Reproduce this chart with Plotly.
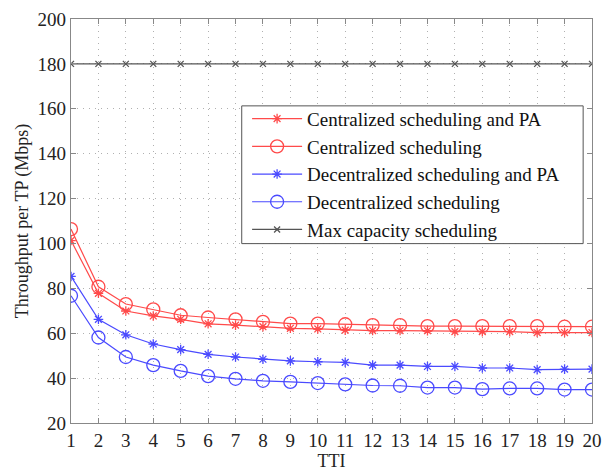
import plotly.graph_objects as go

tti = list(range(1, 21))

central_pa = [101.3, 77.8, 69.9, 67.7, 66.2, 64.2, 63.6, 62.9, 62.2, 61.9,
              61.4, 61.2, 61.2, 61.1, 60.7, 60.7, 60.7, 60.3, 60.3, 60.3]
central = [106.4, 80.7, 73.0, 70.6, 68.0, 67.0, 66.2, 65.1, 64.3, 64.3,
           64.0, 63.6, 63.6, 63.2, 63.2, 63.2, 63.2, 63.2, 62.9, 62.9]
decentral_pa = [85.3, 66.2, 59.3, 55.2, 52.7, 50.6, 49.4, 48.4, 47.7, 47.3,
                47.0, 45.8, 45.8, 45.2, 45.2, 44.5, 44.5, 43.8, 44.0, 44.0]
decentral = [76.7, 58.1, 49.4, 45.8, 43.2, 40.9, 39.7, 38.8, 38.3, 37.8,
             37.2, 36.7, 36.6, 35.8, 35.8, 35.1, 35.4, 35.4, 34.9, 34.9]
max_capacity = [180] * 20

y_ticks = list(range(20, 201, 20))

RED = "#ff4a4a"
BLUE = "#4a4aff"
GRAY = "#555555"
SERIF = "Liberation Serif, Times New Roman, serif"

series = [
    ("Centralized scheduling and PA", central_pa, RED, "asterisk-open", 8),
    ("Centralized scheduling", central, RED, "circle-open", 13),
    ("Decentralized scheduling and PA", decentral_pa, BLUE, "asterisk-open", 8),
    ("Decentralized scheduling", decentral, BLUE, "circle-open", 13),
    ("Max capacity scheduling", max_capacity, GRAY, "x-thin-open", 6),
]

fig = go.Figure()
for name, vals, color, sym, size in series:
    fig.add_trace(go.Scatter(
        x=tti, y=vals, name=name, mode="lines+markers",
        line=dict(color=color, width=1.2),
        marker=dict(symbol=sym, size=size, color=color,
                    line=dict(color=color, width=1.3)),
    ))

axis_common = dict(
    showline=True, linecolor="#888888", linewidth=1.2, mirror="ticks",
    ticks="inside", ticklen=5, tickcolor="#888888",
    showgrid=True, gridcolor="#b0b0b0", griddash="1px,5px", gridwidth=1,
    zeroline=False,
    tickfont=dict(family=SERIF, size=19, color="#222222"),
)

# legend frame, drawn as a box wider than the legend text
fig.add_shape(type="rect", xref="paper", yref="paper",
              x0=0.3277, x1=0.983, y0=0.444, y1=0.785,
              line=dict(color="#555555", width=1), fillcolor="white",
              layer="above")

fig.update_layout(
    width=611, height=473,
    margin=dict(l=71, r=9, t=13, b=46),
    paper_bgcolor="white", plot_bgcolor="white",
    font=dict(family=SERIF, size=19, color="#222222"),
    xaxis=dict(range=[1, 20], tickmode="array", tickvals=tti,
               title=dict(text="TTI", standoff=0,
                          font=dict(family=SERIF, size=18)),
               **axis_common),
    yaxis=dict(range=[20, 200], tickmode="array", tickvals=y_ticks,
               title=dict(text="Throughput per TP (Mbps)", standoff=4,
                          font=dict(family=SERIF, size=18)),
               **axis_common),
    legend=dict(
        x=0.338, y=0.80, xanchor="left", yanchor="top",
        bgcolor="rgba(0,0,0,0)", borderwidth=0,
        font=dict(family=SERIF, size=19, color="#111111"),
        itemwidth=50, tracegroupgap=0,
    ),
)

fig.write_html("out.html")
